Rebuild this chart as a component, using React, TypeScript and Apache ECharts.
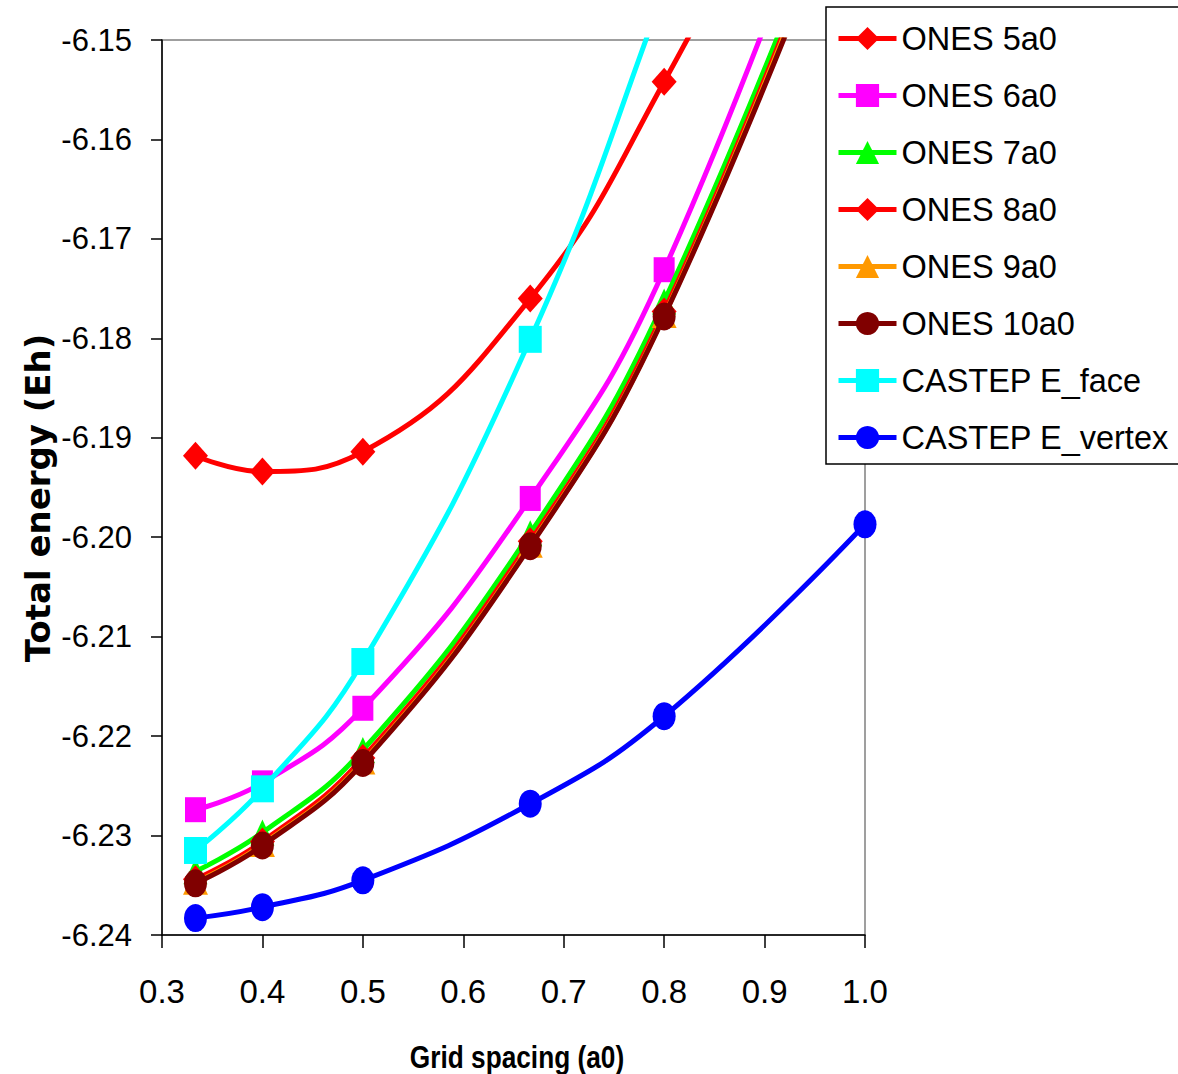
import React, { useEffect, useRef } from 'react';
import * as echarts from 'echarts';

// Grid spacing (a0)
const xValues = [1 / 3, 0.4, 0.5, 2 / 3, 0.8, 1.0];

// Total energy (Eh)
const ones5a0 = [-6.1918, -6.1934, -6.1914, -6.1760, -6.1542, -6.115];
const ones6a0 = [-6.2274, -6.2247, -6.2172, -6.1961, -6.1731, -6.121];
const ones7a0 = [-6.2336, -6.2297, -6.2214, -6.1996, -6.1763, -6.127];
const ones8a0 = [-6.2344, -6.2306, -6.2222, -6.2004, -6.1773, -6.128];
const ones9a0 = [-6.2347, -6.2309, -6.2226, -6.2008, -6.1777, -6.1285];
const ones10a0 = [-6.2348, -6.2310, -6.2227, -6.2009, -6.1778, -6.129];
const castepFace = [-6.2315, -6.2253, -6.2125, -6.1801, -6.1450, -6.09];
const castepVertex = [-6.2383, -6.2372, -6.2345, -6.2268, -6.2180, -6.1987];

const seriesNames = [
  'ONES 5a0',
  'ONES 6a0',
  'ONES 7a0',
  'ONES 8a0',
  'ONES 9a0',
  'ONES 10a0',
  'CASTEP E_face',
  'CASTEP E_vertex',
];
const seriesValues = [ones5a0, ones6a0, ones7a0, ones8a0, ones9a0, ones10a0, castepFace, castepVertex];

const xTicks = { min: 0.3, max: 1.0, interval: 0.1 };
const yTicks = { min: -6.24, max: -6.15, interval: 0.01 };

const colors = ['#FF0000', '#FF00FF', '#00FF00', '#FF0000', '#FF9900', '#800000', '#00FFFF', '#0000FF'];
const symbols = ['diamond', 'rect', 'triangle', 'diamond', 'triangle', 'circle', 'rect', 'circle'];
const symbolSizes = [
  [25, 28],
  [21, 25],
  [24, 26],
  [25, 28],
  [25, 25],
  [23, 28],
  [23, 27],
  [23, 28],
];

const REGULAR = "'Liberation Sans', Arial, sans-serif";

export default function App() {
  const ref = useRef<HTMLDivElement>(null);

  useEffect(() => {
    if (!ref.current) return;
    const chart = echarts.init(ref.current, undefined, { renderer: 'svg' });

    const series = seriesNames.map((name, i) => ({
      name,
      type: 'line',
      smooth: 0.45,
      data: xValues.map((x, j) => [x, seriesValues[i][j]]),
      symbol: symbols[i],
      symbolSize: symbolSizes[i],
      showAllSymbol: true,
      clip: true,
      lineStyle: { color: colors[i], width: 5 },
      itemStyle: { color: colors[i], borderWidth: 0 },
      emphasis: { disabled: true },
      z: 2 + i,
    }));

    chart.setOption({
      animation: false,
      backgroundColor: '#ffffff',
      grid: {
        left: 162,
        right: 313,
        top: 40,
        bottom: 139,
        show: true,
        borderColor: '#808080',
        borderWidth: 1.5,
        backgroundColor: 'transparent',
      },
      xAxis: {
        type: 'value',
        min: xTicks.min,
        max: xTicks.max,
        interval: xTicks.interval,
        splitLine: { show: false },
        axisLine: { show: true, lineStyle: { color: '#000000', width: 1.5 } },
        axisTick: { show: true, inside: false, length: 13, lineStyle: { color: '#000000', width: 1.5 } },
        axisLabel: {
          margin: 40,
          fontFamily: REGULAR,
          fontSize: 33,
          color: '#000000',
          showMinLabel: true,
          showMaxLabel: true,
          formatter: (v: number) => v.toFixed(1),
        },
      },
      yAxis: {
        type: 'value',
        min: yTicks.min,
        max: yTicks.max,
        interval: yTicks.interval,
        splitLine: { show: false },
        axisLine: { show: true, onZero: false, lineStyle: { color: '#000000', width: 1.5 } },
        axisTick: { show: true, inside: false, length: 11, lineStyle: { color: '#000000', width: 1.5 } },
        axisLabel: {
          margin: 30,
          fontFamily: REGULAR,
          fontSize: 31,
          color: '#000000',
          showMinLabel: true,
          showMaxLabel: true,
          formatter: (v: number) => v.toFixed(2),
        },
      },
      legend: {
        orient: 'vertical',
        left: 826,
        top: 7,
        padding: [15, 40, 10, 10],
        itemWidth: 58,
        itemHeight: 29,
        itemGap: 24,
        backgroundColor: '#ffffff',
        borderColor: '#000000',
        borderWidth: 1.5,
        borderRadius: 0,
        selectedMode: false,
        data: seriesNames,
        lineStyle: { width: 5 },
        textStyle: {
          fontFamily: REGULAR,
          fontSize: 32.5,
          lineHeight: 32.5,
          color: '#000000',
        },
      },
      graphic: [
        {
          type: 'text',
          x: 38,
          y: 498,
          rotation: Math.PI / 2,
          silent: true,
          style: {
            text: 'Total energy (Eh)',
            font: "bold 34px 'DejaVu Sans', sans-serif",
            fill: '#000000',
            align: 'center',
            verticalAlign: 'middle',
            textAlign: 'center',
            textVerticalAlign: 'middle',
          },
        },
        {
          type: 'text',
          x: 517,
          y: 1057,
          scaleX: 0.82,
          silent: true,
          style: {
            text: 'Grid spacing (a0)',
            font: "bold 32px 'Liberation Sans', Arial, sans-serif",
            fill: '#000000',
            align: 'center',
            verticalAlign: 'middle',
            textAlign: 'center',
            textVerticalAlign: 'middle',
          },
        },
      ],
      series,
    });

    return () => {
      chart.dispose();
    };
  }, []);

  return (
    <div
      ref={ref}
      style={{ position: 'absolute', left: 0, top: 0, width: 1178, height: 1074, background: '#ffffff' }}
    />
  );
}
